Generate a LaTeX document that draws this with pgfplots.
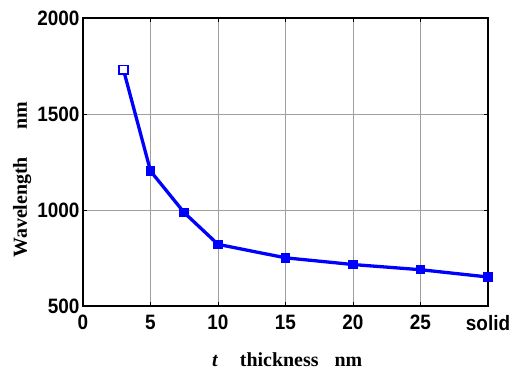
\documentclass[border=0pt]{standalone}
\usepackage{pgfplots}
\pgfplotsset{compat=1.18}
\usepackage{fontspec}
\setmainfont{Liberation Serif}
\setsansfont{Liberation Sans}
\begin{document}
\begin{tikzpicture}
\begin{axis}[
  scale only axis,
  width=405bp, height=288bp,
  xmin=0, xmax=30, ymin=500, ymax=2000,
  xtick={0,5,10,15,20,25,30},
  xticklabels={0,5,10,15,20,25,solid},
  ytick={500,1000,1500,2000},
  /pgf/number format/assume math mode=true,
  /pgf/number format/1000 sep={},
  tick label style={font=\sffamily\bfseries\fontsize{19}{19}\selectfont, yscale=1.1},
  xticklabel style={yshift=-5bp},
  yticklabel style={xshift=0bp},
  tick align=inside,
  major tick length=4bp,
  tick style={black, line width=0.8pt},
  grid=major,
  major grid style={gray!75, line width=0.7pt},
  axis line style={black, line width=1.4pt},
  xlabel={\textbf{\textit{t}}\hspace{1.1em}\textbf{thickness}\hspace{0.8em}\textbf{nm}},
  ylabel={\textbf{Wavelength}\hspace{1.4em}\textbf{nm}},
  label style={font=\fontsize{20}{20}\selectfont},
  xlabel style={at={(axis description cs:0.504,0)}, anchor=base, yshift=-60bp},
  ylabel style={at={(axis description cs:-0.1383,0.439)}, anchor=base},
]
\addplot[blue, line width=3.3pt, mark=square*, mark size=4.3pt, mark options={fill=blue, line width=1pt}]
  coordinates {(3,1730) (5,1203) (7.5,986) (10,821) (15,751) (20,716) (25,689) (30,651)};
\addplot[blue, only marks, mark=square*, mark size=4.3pt, mark options={fill=white, line width=1.8pt}]
  coordinates {(3,1730)};
\end{axis}
\pgfresetboundingbox
\path (current axis.south west) ++(-83bp,-64bp) coordinate (bl);
\path (current axis.north east) ++(21bp,18bp) coordinate (tr);
\path (bl) rectangle (tr);
\end{tikzpicture}
\end{document}
